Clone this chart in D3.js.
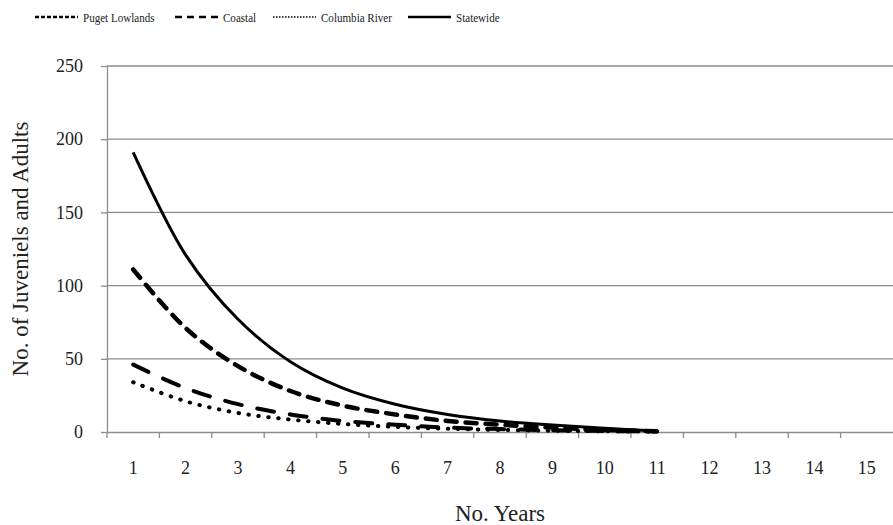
<!DOCTYPE html>
<html lang="en">
<head>
<meta charset="utf-8">
<script src="https://d3js.org/d3.v7.min.js"></script>
<style type="text/css">
body {
	margin: 0;
	background: #fff;
}
.grid line {
	stroke: #8c8c8c;
	stroke-width: 1.3;
}
.axis path, .axis line {
	stroke: #8c8c8c;
	stroke-width: 1.3;
}
text {
	font-family: "Liberation Serif", "Times New Roman", serif;
	fill: #222;
}
.axis text {
	font-family: "Liberation Serif", "Times New Roman", serif;
	font-size: 18px;
	fill: #222;
}
</style>
</head>
<body>
<script type="text/javascript">

// chart values
var years = [1, 2, 3, 4, 5, 6, 7, 8, 9, 10, 11, 12, 13, 14, 15];
var yTicks = [0, 50, 100, 150, 200, 250];

var pugetLowlands = [46, 30, 19, 12, 7.5, 5, 3, 2, 1.2, 0.7, 0.3];
var coastal       = [111, 71, 45, 28, 18, 12, 7.5, 5, 3, 1.5, 0.5];
var columbiaRiver = [34, 21, 13, 8.5, 5.5, 3.5, 2.2, 1.4, 0.9, 0.5, 0.2];
var statewide     = [191, 121, 77, 48, 30, 19, 12, 7.5, 4.7, 2.5, 0.6];

var seriesNames = ["Puget Lowlands", "Coastal", "Columbia River", "Statewide"];

var width = 893;
var height = 525;
var margin = {top: 66, right: 0, bottom: 93, left: 107};
var serif = "'Liberation Serif', 'Times New Roman', serif";

var svg = d3.select("body")
      .append("svg")
      .attr("width", width)
      .attr("height", height);

var x = d3.scaleBand()
          .domain(years)
          .range([margin.left, width - margin.right]);

var y = d3.scaleLinear()
          .domain([0, 250])
          .range([height - margin.bottom, margin.top]);

// horizontal gridlines
svg.append("g")
   .attr("class", "grid")
   .selectAll("line")
   .data(yTicks.slice(1))
   .enter()
   .append("line")
   .attr("x1", margin.left)
   .attr("x2", width - margin.right)
   .attr("y1", function(d) { return y(d); })
   .attr("y2", function(d) { return y(d); });

// y axis
var yAxis = svg.append("g")
   .attr("class", "axis")
   .attr("transform", "translate(" + margin.left + ",0)")
   .attr("font-family", serif)
   .call(d3.axisLeft(y).tickValues(yTicks).tickSize(6).tickPadding(18).tickSizeOuter(0));

// x axis, ticks between categories
var xAxis = svg.append("g")
   .attr("class", "axis")
   .attr("transform", "translate(0," + y(0) + ")")
   .attr("font-family", serif)
   .call(d3.axisBottom(x).tickSize(0).tickPadding(29).tickSizeOuter(0));

xAxis.selectAll(".sep")
     .data(years)
     .enter()
     .append("line")
     .attr("class", "sep")
     .attr("x1", function(d) { return x(d); })
     .attr("x2", function(d) { return x(d); })
     .attr("y1", 0)
     .attr("y2", 6);

// series
var styles = [
  {data: pugetLowlands, width: 4, dash: "17 16", cap: "round"},
  {data: coastal,       width: 4.5, dash: "11 9", cap: "round"},
  {data: columbiaRiver, width: 4, dash: "0.5 9.5", cap: "round"},
  {data: statewide,     width: 3, dash: null, cap: "butt"}
];

var line = d3.line()
             .x(function(d, i) { return x(years[i]) + x.bandwidth() / 2; })
             .y(function(d) { return y(d); })
             .curve(d3.curveCatmullRom.alpha(0.5));

svg.selectAll(".series")
   .data(styles)
   .enter()
   .append("path")
   .attr("class", "series")
   .attr("d", function(d) { return line(d.data); })
   .style("fill", "none")
   .style("stroke", "#000")
   .style("stroke-width", function(d) { return d.width; })
   .style("stroke-linecap", function(d) { return d.cap; })
   .style("stroke-dasharray", function(d) { return d.dash; });

// legend
var legendX = [35, 175, 273, 408];
var legendDash = ["4 2", "7 5", "1.5 1.5", null];

var legend = svg.selectAll(".legend")
   .data(seriesNames)
   .enter()
   .append("g")
   .attr("class", "legend")
   .attr("transform", function(d, i) { return "translate(" + legendX[i] + ",17)"; });

legend.append("line")
      .attr("x1", 0)
      .attr("x2", 43)
      .style("stroke", "#000")
      .style("stroke-width", function(d, i) { return i == 2 ? 1.5 : 2.6; })
      .style("stroke-dasharray", function(d, i) { return legendDash[i]; });

// the legend face in the picture is narrow, so squeeze it a little
legend.append("text")
      .attr("transform", "translate(48,0) scale(0.82,1)")
      .attr("dy", "0.35em")
      .attr("font-family", serif)
      .style("font-size", "13.5px")
      .text(function(d) { return d; });

// axis titles
svg.append("text")
   .attr("transform", "translate(20," + ((margin.top + y(0)) / 2) + ") rotate(-90)")
   .attr("text-anchor", "middle")
   .attr("dy", "0.35em")
   .attr("font-family", serif)
   .style("font-size", "23px")
   .text("No. of Juveniels and Adults");

svg.append("text")
   .attr("x", (margin.left + width) / 2)
   .attr("y", 521)
   .attr("text-anchor", "middle")
   .attr("font-family", serif)
   .style("font-size", "23px")
   .text("No. Years");

</script>
</body>
</html>
